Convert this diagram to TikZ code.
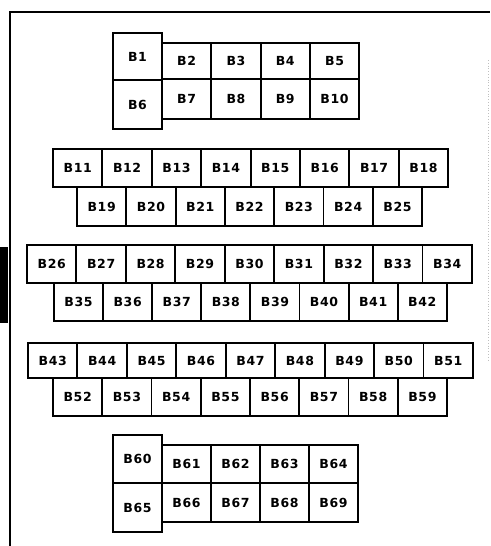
\documentclass[tikz,border=0pt]{standalone}
\usepackage{fontspec}
\setmainfont{DejaVu Sans}
\newfontfamily\cellfont[LetterSpace=5]{DejaVu Sans}
\newcommand\cellbox[6]{\node[cell, anchor=north west, minimum width={(#4)*1pt}, minimum height={(#5)*1pt}] (#1) at (#2,#3) {#6};}
\begin{document}
\begin{tikzpicture}[x=1pt,y=-1pt,
  cell/.style={draw, line width=1.9pt, inner sep=0pt, outer sep=0pt,
    text height=9.1pt, text depth=0pt,
    font=\cellfont\bfseries\fontsize{12.5}{14}\selectfont},
  frameline/.style={line width=1.9pt}]
\useasboundingbox (0,0) rectangle (490,546);
% frame
\draw[frameline] (10,546) -- (10,12) -- (490,12);
\fill (0,247) rectangle (8,323);
\draw[gray!50, dotted, line width=0.8pt] (488,60) -- (488,360);
% group 1
\cellbox{b1}{113}{33}{49}{47}{B1}
\cellbox{b6}{113}{80}{49}{49}{B6}
\foreach \i in {0,...,3}{
  \pgfmathsetmacro\xa{162+49.3*\i}
  \pgfmathtruncatemacro\na{2+\i}
  \pgfmathtruncatemacro\nb{7+\i}
  \cellbox{b\na}{\xa}{43}{49.3}{36}{B\na}
  \cellbox{b\nb}{\xa}{79}{49.3}{40}{B\nb}
}
% group 2
\foreach \i in {0,...,7}{
  \pgfmathsetmacro\xa{53+49.4*\i}
  \pgfmathtruncatemacro\na{11+\i}
  \cellbox{b\na}{\xa}{149}{49.4}{38}{B\na}
}
\foreach \i in {0,...,6}{
  \pgfmathsetmacro\xa{77+49.3*\i}
  \pgfmathtruncatemacro\na{19+\i}
  \cellbox{b\na}{\xa}{187}{49.3}{39}{B\na}
}
% group 3
\foreach \i in {0,...,8}{
  \pgfmathsetmacro\xa{27+49.44*\i}
  \pgfmathtruncatemacro\na{26+\i}
  \cellbox{b\na}{\xa}{245}{49.44}{38}{B\na}
}
\foreach \i in {0,...,7}{
  \pgfmathsetmacro\xa{54+49.1*\i}
  \pgfmathtruncatemacro\na{35+\i}
  \cellbox{b\na}{\xa}{283}{49.1}{38}{B\na}
}
% group 4
\foreach \i in {0,...,8}{
  \pgfmathsetmacro\xa{28+49.44*\i}
  \pgfmathtruncatemacro\na{43+\i}
  \cellbox{b\na}{\xa}{343}{49.44}{35}{B\na}
}
\foreach \i in {0,...,7}{
  \pgfmathsetmacro\xa{53+49.25*\i}
  \pgfmathtruncatemacro\na{52+\i}
  \cellbox{b\na}{\xa}{378}{49.25}{38}{B\na}
}
% group 5
\cellbox{b60}{113}{435}{49}{48}{B60}
\cellbox{b65}{113}{483}{49}{49}{B65}
\foreach \i in {0,...,3}{
  \pgfmathsetmacro\xa{162+49*\i}
  \pgfmathtruncatemacro\na{61+\i}
  \pgfmathtruncatemacro\nb{66+\i}
  \cellbox{b\na}{\xa}{445}{49}{38}{B\na}
  \cellbox{b\nb}{\xa}{483}{49}{39}{B\nb}
}
\end{tikzpicture}
\end{document}
